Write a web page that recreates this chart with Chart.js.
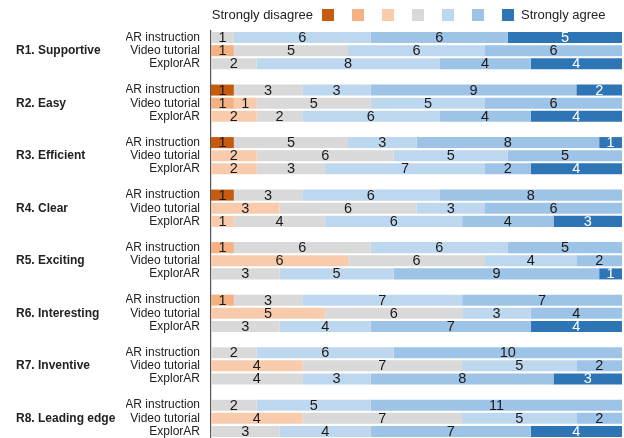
<!DOCTYPE html>
<html>
<head>
<meta charset="utf-8">
<script src="https://cdn.jsdelivr.net/npm/chart.js@4/dist/chart.umd.min.js"></script>
<style>
  body { margin: 0; background: #fff; font-family: "Liberation Sans", Arial, sans-serif; }
  #wrap { position: relative; width: 624px; height: 438px; }
  #legend { position: absolute; left: 0; top: 0; width: 624px; height: 30px; font-size: 13px; color: #222; }
  #legend span { position: absolute; }
  #legend .box { width: 12px; height: 12px; top: 9px; }
  canvas { display: block; }
</style>
</head>
<body>
<div id="wrap">
  <div id="legend"></div>
  <canvas id="chart" width="624" height="438"></canvas>
</div>
<script>
// Likert levels, legend order
const levels = ['Strongly disagree', 'Disagree', 'Somewhat disagree', 'Neutral', 'Somewhat agree', 'Agree', 'Strongly agree'];
const colors = ['#c55a11', '#f4b183', '#f8cbad', '#d9d9d9', '#bdd7ee', '#9dc3e6', '#2e75b6'];

const questions = ['R1. Supportive', 'R2. Easy', 'R3. Efficient', 'R4. Clear', 'R5. Exciting', 'R6. Interesting', 'R7. Inventive', 'R8. Leading edge'];
const conditions = ['AR instruction', 'Video tutorial', 'ExplorAR'];

// counts per level, rows = question x condition (R1 AR, R1 Video, R1 ExplorAR, R2 AR, ...)
const stronglyDisagree = [0,0,0, 1,0,0, 1,0,0, 1,0,0, 0,0,0, 0,0,0, 0,0,0, 0,0,0];
const disagree         = [0,1,0, 0,1,0, 0,0,0, 0,0,0, 1,0,0, 1,0,0, 0,0,0, 0,0,0];
const somewhatDisagree = [0,0,0, 0,1,2, 0,2,2, 0,3,1, 0,6,0, 0,5,0, 0,4,0, 0,4,0];
const neutral          = [1,5,2, 3,5,2, 5,6,3, 3,6,4, 6,6,3, 3,6,3, 2,7,4, 2,7,3];
const somewhatAgree    = [6,6,8, 3,5,6, 3,5,7, 6,3,6, 6,4,5, 7,3,4, 6,5,3, 5,5,4];
const agree            = [6,6,4, 9,6,4, 8,5,2, 8,6,4, 5,2,9, 7,4,7, 10,2,8, 11,2,7];
const stronglyAgree    = [5,0,4, 2,0,4, 1,0,4, 0,0,3, 0,0,1, 0,0,4, 0,0,3, 0,0,4];
const series = [stronglyDisagree, disagree, somewhatDisagree, neutral, somewhatAgree, agree, stronglyAgree];

// build rows with an empty row between question groups
const rowLabels = [];
const groupLabels = [];
const rowIndex = [];
questions.forEach((q, qi) => {
  if (qi > 0) { rowLabels.push(''); groupLabels.push(''); rowIndex.push(-1); }
  conditions.forEach((c, ci) => {
    rowLabels.push(c);
    groupLabels.push(ci === 1 ? q : '');
    rowIndex.push(qi * 3 + ci);
  });
});

const datasets = series.map((vals, li) => ({
  label: levels[li],
  data: rowIndex.map(i => i < 0 ? null : vals[i]),
  backgroundColor: colors[li],
  barPercentage: 0.84,
  categoryPercentage: 1.0
}));

// html legend
const legend = document.getElementById('legend');
let html = '<span style="right:311px;top:7px">Strongly disagree</span>';
colors.forEach((c, i) => {
  html += '<span class="box" style="left:' + (322 + i * 30) + 'px;background:' + c + '"></span>';
});
html += '<span style="left:521px;top:7px">Strongly agree</span>';
legend.innerHTML = html;

const barLabels = {
  id: 'barLabels',
  afterDatasetsDraw(chart) {
    const ctx = chart.ctx;
    ctx.save();
    ctx.font = '14.5px "Liberation Sans", Arial, sans-serif';
    ctx.textAlign = 'center';
    ctx.textBaseline = 'middle';
    chart.data.datasets.forEach((ds, di) => {
      const meta = chart.getDatasetMeta(di);
      meta.data.forEach((el, i) => {
        const v = ds.data[i];
        if (!v) return;
        const p = el.getProps(['x', 'y', 'base'], true);
        ctx.fillStyle = di === 6 ? '#ffffff' : '#1a1a1a';
        ctx.fillText(String(v), (p.x + p.base) / 2, p.y + 0.5);
      });
    });
    ctx.restore();
  }
};

function fitWidth(w) {
  return function (scale) {
    scale.width = w;
    scale.paddingTop = 0;
    scale.paddingBottom = 0;
  };
}

new Chart(document.getElementById('chart'), {
  type: 'bar',
  data: { labels: rowLabels, datasets: datasets },
  options: {
    indexAxis: 'y',
    responsive: false,
    animation: false,
    layout: { padding: { top: 31, left: 16, right: 2, bottom: 0 } },
    plugins: { legend: { display: false }, tooltip: { enabled: false } },
    scales: {
      x: { stacked: true, min: 0, max: 18, display: false },
      y: {
        stacked: true,
        offset: true,
        weight: 1,
        grid: { display: false, drawTicks: false },
        border: { display: true, color: '#555', width: 1.2 },
        ticks: { autoSkip: false, padding: 11, color: '#222', font: { size: 12, family: '"Liberation Sans", Arial, sans-serif' } },
        afterFit: fitWidth(85)
      },
      y2: {
        type: 'category',
        position: 'left',
        labels: groupLabels,
        offset: true,
        weight: 2,
        grid: { display: false, drawTicks: false },
        border: { display: false },
        ticks: { autoSkip: false, crossAlign: 'far', padding: 0, color: '#222', font: { size: 12, weight: 'bold', family: '"Liberation Sans", Arial, sans-serif' } },
        afterFit: fitWidth(110)
      }
    }
  },
  plugins: [barLabels]
});
</script>
</body>
</html>
